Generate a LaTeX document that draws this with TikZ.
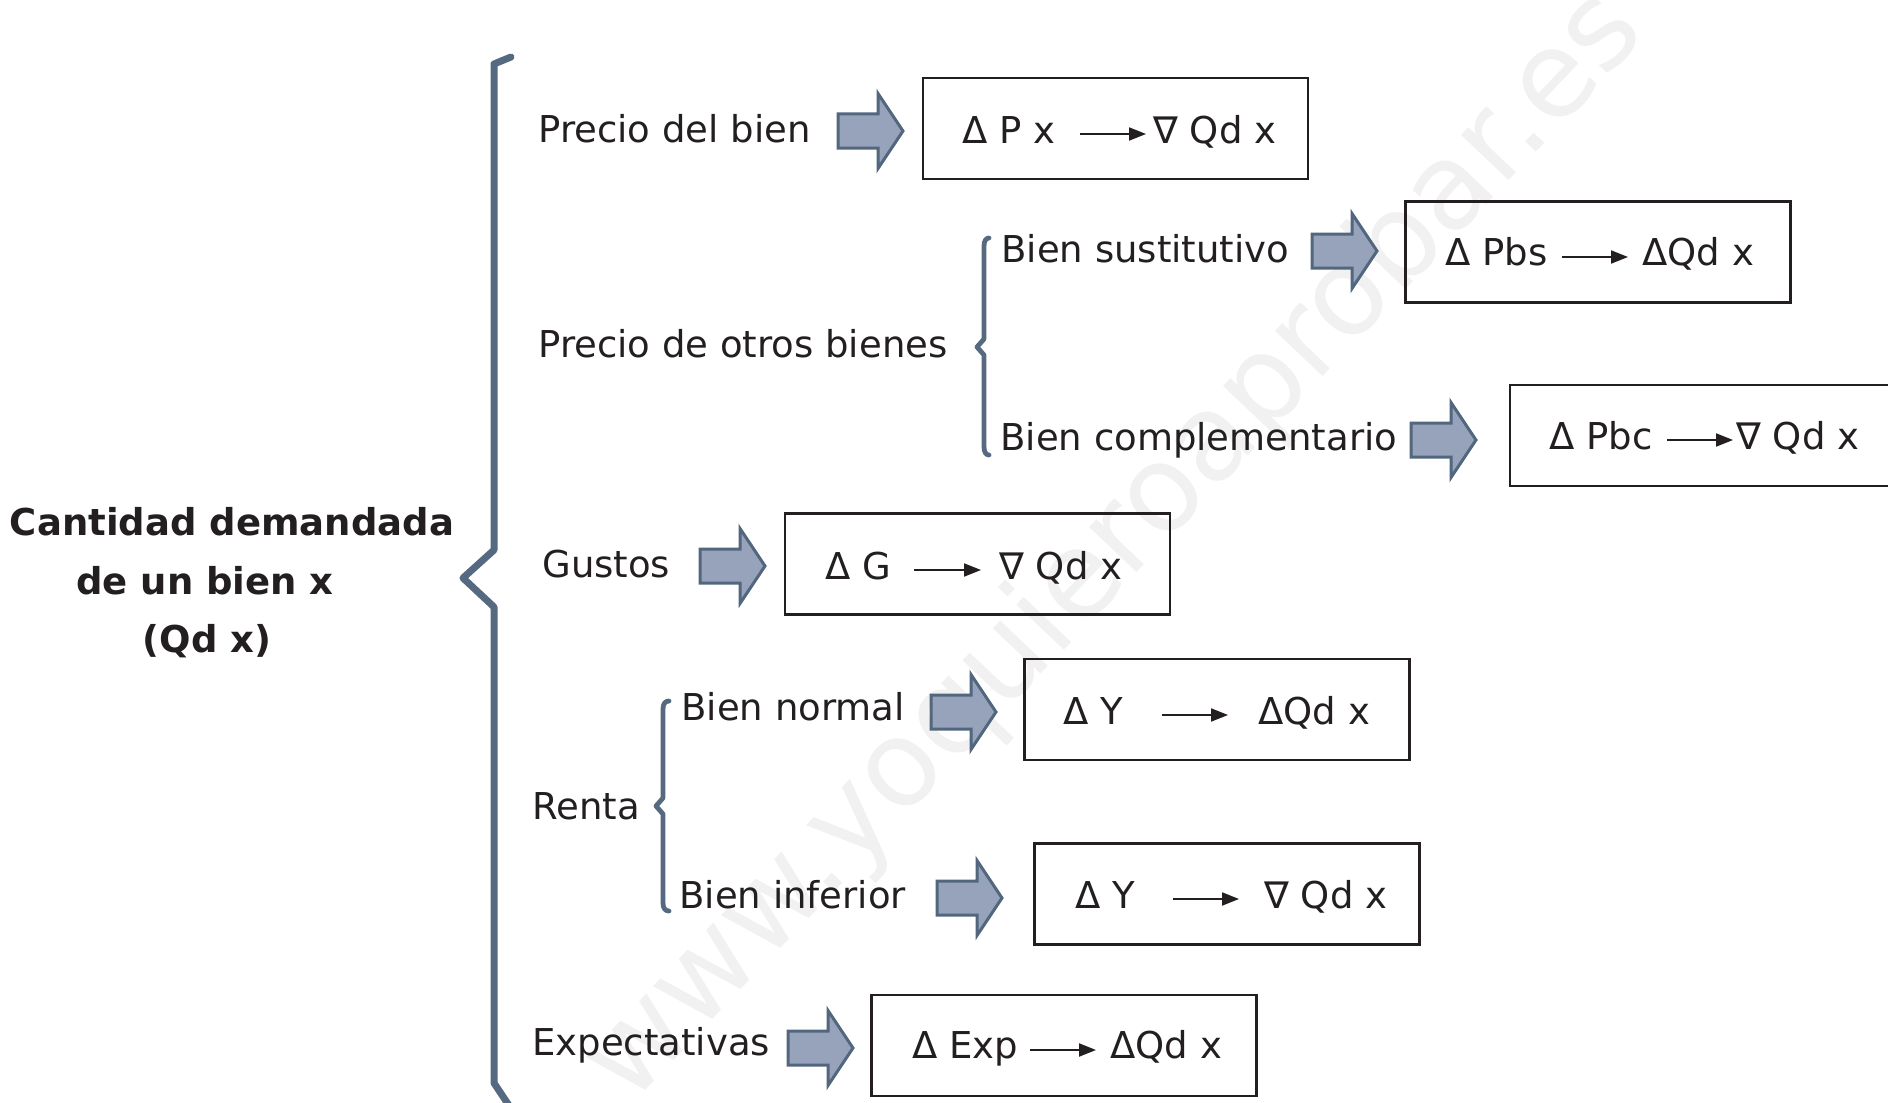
\documentclass[tikz,border=0pt]{standalone}
\usepackage{fontspec}
\setmainfont{DejaVu Sans}
\usetikzlibrary{arrows.meta}
\definecolor{bracecol}{HTML}{556A80}
\definecolor{arrfill}{HTML}{96A3BB}
\definecolor{arredge}{HTML}{52667E}
\definecolor{boxcol}{HTML}{231F20}
\definecolor{txtcol}{HTML}{231F20}
\definecolor{wmark}{HTML}{F1F1F1}
\tikzset{
  lbl/.style={anchor=base west, inner sep=0pt, text=txtcol, font=\fontsize{18.5pt}{22pt}\selectfont},
  ttl/.style={anchor=base, inner sep=0pt, text=txtcol, font=\bfseries\fontsize{18.5pt}{22pt}\selectfont},
  box/.style={draw=boxcol, line width=1.3pt, minimum width=192.5pt, minimum height=50.5pt, inner sep=0pt},
  inarrow/.style={draw=boxcol, line width=1pt, -{Triangle[length=8.5pt,width=6.5pt]}},
  bracebig/.style={draw=bracecol, line width=3.5pt, line cap=round, line join=round},
  bracesmall/.style={draw=bracecol, line width=2.4pt, line cap=round, line join=round},
  pics/blockarrow/.style={code={
    \draw[fill=arrfill, draw=arredge, line width=1.5pt, line join=miter]
      (0,-17) -- (40,-17) -- (40,-37.5) -- (65,0) -- (40,37.5) -- (40,17) -- (0,17) -- cycle;}}
}
\begin{document}
\begin{tikzpicture}[x=0.5pt,y=-0.5pt]
\useasboundingbox (0,0) rectangle (1888,1102);
\clip (0,0) rectangle (1888,1102);
% watermark
\node[rotate=46.5, text=wmark, font=\fontsize{60pt}{60pt}\selectfont, inner sep=0pt] (wm) at (1115,548) {www.yoquieroaprobar.es};

% title
\node[ttl] (t1) at (232,535) {Cantidad demandada};
\node[ttl] (t2) at (205,594) {de un bien x};
\node[ttl] (t3) at (207,652) {(Qd x)};

% big brace
\draw[bracebig] (511,57) -- (494,64) -- (494,550) -- (463,578) -- (494,607) -- (494,1083) -- (512,1110);

% labels
\node[lbl] (l1) at (538,142) {Precio del bien};
\node[lbl] (l2) at (538,357) {Precio de otros bienes};
\node[lbl] (l2a) at (1001,262) {Bien sustitutivo};
\node[lbl] (l2b) at (1000,450) {Bien complementario};
\node[lbl] (l3) at (542,577) {Gustos};
\node[lbl] (l4) at (532,819) {Renta};
\node[lbl] (l4a) at (681,720) {Bien normal};
\node[lbl] (l4b) at (679,908) {Bien inferior};
\node[lbl] (l5) at (532,1055) {Expectativas};

% small braces
\draw[bracesmall] (989,238) .. controls (986,238) and (984,241) .. (984,246) -- (984,339) -- (977,347) -- (984,355) -- (984,447) .. controls (984,452) and (986,455) .. (989,455);
\draw[bracesmall] (669,701) .. controls (665,701) and (663,704) .. (663,709) -- (663,798) -- (656,806) -- (663,814) -- (663,903) .. controls (663,908) and (665,911) .. (669,911);

% block arrows
\pic at (838,131) {blockarrow};
\pic at (1312,251) {blockarrow};
\pic at (1411,440) {blockarrow};
\pic at (700,566) {blockarrow};
\pic at (931,712) {blockarrow};
\pic at (937,898) {blockarrow};
\pic at (788,1048) {blockarrow};

% boxes
\node[box] (b1) at (1115.5,128.5) {};
\node[box] (b2) at (1598,252) {};
\node[box] (b3) at (1702.5,435.5) {};
\node[box] (b4) at (977.5,564) {};
\node[box] (b5) at (1217,709.5) {};
\node[box] (b6) at (1227,894) {};
\node[box] (b7) at (1064,1045.5) {};

% box contents
\node[lbl] (b1l) at (962,143) {Δ P x};
\node[lbl] (b1r) at (1153,143) {∇ Qd x};
\draw[inarrow] (1080,134) -- (1146,134);

\node[lbl] (b2l) at (1445,265) {Δ Pbs};
\node[lbl] (b2r) at (1642,265) {ΔQd x};
\draw[inarrow] (1562,257) -- (1628,257);

\node[lbl] (b3l) at (1549,449) {Δ Pbc};
\node[lbl] (b3r) at (1736,449) {∇ Qd x};
\draw[inarrow] (1667,440) -- (1733,440);

\node[lbl] (b4l) at (825,579) {Δ G};
\node[lbl] (b4r) at (999,579) {∇ Qd x};
\draw[inarrow] (914,570) -- (981,570);

\node[lbl] (b5l) at (1063,724) {Δ Y};
\node[lbl] (b5r) at (1258,724) {ΔQd x};
\draw[inarrow] (1162,715) -- (1228,715);

\node[lbl] (b6l) at (1075,908) {Δ Y};
\node[lbl] (b6r) at (1264,908) {∇ Qd x};
\draw[inarrow] (1173,899) -- (1239,899);

\node[lbl] (b7l) at (912,1058) {Δ Exp};
\node[lbl] (b7r) at (1110,1058) {ΔQd x};
\draw[inarrow] (1030,1050) -- (1096,1050);
\end{tikzpicture}
\end{document}
